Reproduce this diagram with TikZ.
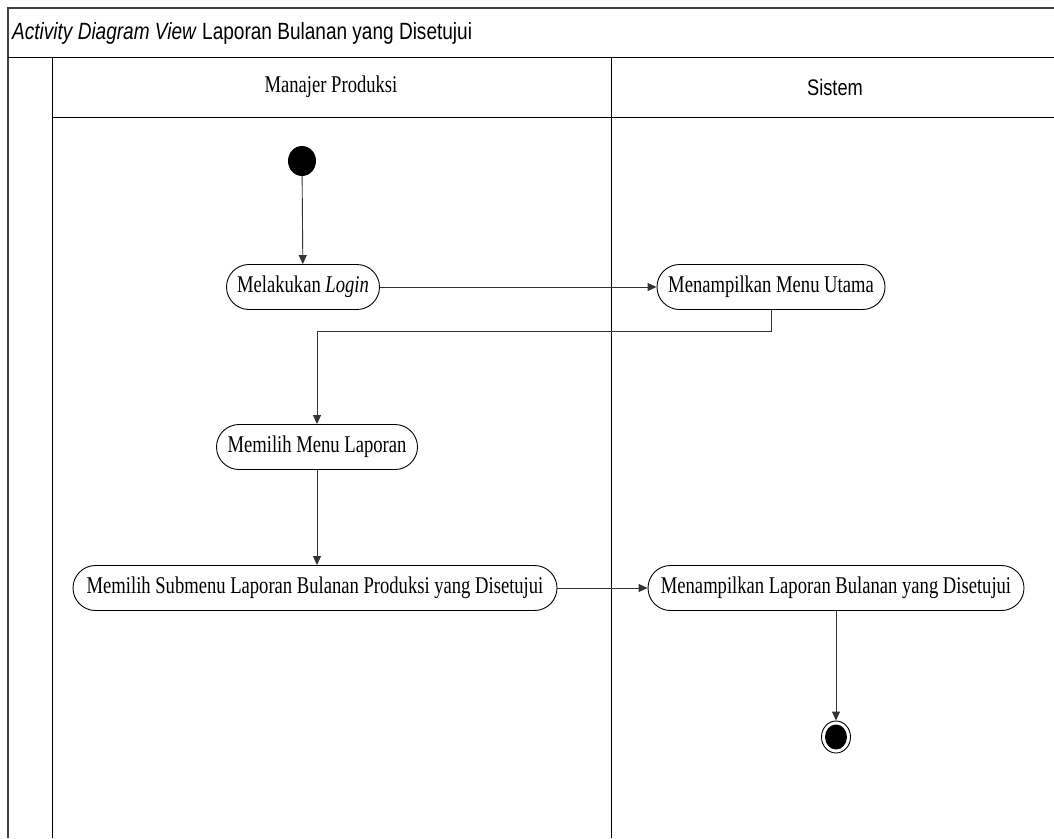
\documentclass[tikz,border=0pt]{standalone}
\usepackage{fontspec}
\setmainfont{Liberation Serif}[FakeStretch=0.775]
\newfontfamily\sansf{Liberation Sans}[FakeStretch=0.81]
\usetikzlibrary{arrows.meta,shapes.geometric}
\begin{document}
\begin{tikzpicture}[x=1pt,y=-1pt,
  frame/.style={line width=1.4pt,draw=black!75},
  lane/.style={line width=0.9pt,draw=black},
  act/.style={draw=black,line width=0.9pt,rounded corners=22.5pt,
    minimum height=45pt,inner xsep=4pt,inner ysep=0pt,font=\fontsize{24}{26}\selectfont},
  flow/.style={draw=black!80,line width=0.9pt,-{Triangle[length=9pt,width=8pt]}},
  startnode/.style={ellipse,fill=black,minimum width=28pt,minimum height=30pt,inner sep=0pt},
  endnode/.style={ellipse,draw=black,line width=0.9pt,fill=white,minimum width=29pt,minimum height=32pt,inner sep=0pt},
]
\useasboundingbox (0,0) rectangle (1054,838);

% swimlane frame
\draw[frame] (1054,8) -- (8,8) -- (8,838);
\draw[lane] (8,57) -- (1054,57);
\draw[lane] (52,57) -- (52,838);
\draw[lane] (52,117) -- (1054,117);
\draw[lane] (611,57) -- (611,838);

% captions
\node[anchor=west,inner sep=0pt,font=\sansf\fontsize{23.5}{25}\selectfont] (title) at (12,33)
  {\textit{Activity Diagram View} Laporan Bulanan yang Disetujui};
\node[font=\fontsize{24}{26}\selectfont] (laneA) at (331,87) {Manajer Produksi};
\node[font=\sansf\fontsize{22.5}{24}\selectfont] (laneB) at (835,87) {Sistem};

% activities
\node[startnode] (start) at (302,161) {};
\node[act,minimum width=153pt] (login) at (303,287) {Melakukan \textit{Login}};
\node[act,minimum width=228pt] (menu) at (771,287) {Menampilkan Menu Utama};
\node[act,minimum width=201pt] (pilih) at (317,447) {Memilih Menu Laporan};
\node[act,minimum width=484pt] (sub) at (315,588) {Memilih Submenu Laporan Bulanan Produksi yang Disetujui};
\node[act,minimum width=376pt] (lap) at (836,588) {Menampilkan Laporan Bulanan yang Disetujui};
\node[endnode] (end) at (836,737) {};
\node[ellipse,fill=black,minimum width=22pt,minimum height=25pt,inner sep=0pt] (endcore) at (end.center) {};

% control flow
\draw[flow] (start) -- (login);
\draw[flow] (login) -- (menu);
\draw[flow] (menu.south) -- ++(0,21) coordinate (bend) -| (pilih.north);
\draw[flow] (pilih) -- (pilih |- sub.north);
\draw[flow] (sub) -- (lap);
\draw[flow] (lap) -- (end);
\end{tikzpicture}
\end{document}
